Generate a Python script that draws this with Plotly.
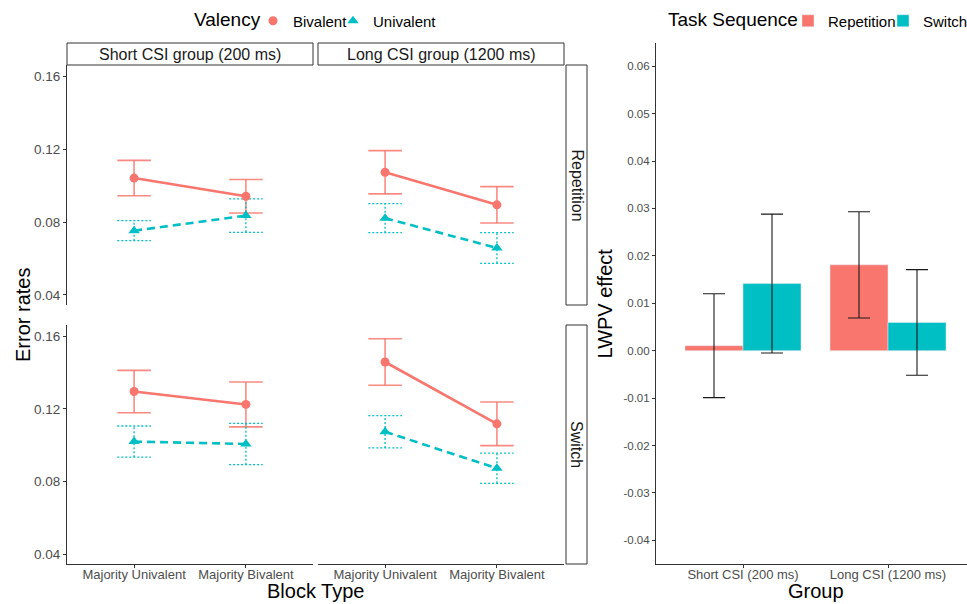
import plotly.graph_objects as go

# ---------------- data ----------------
blocks = ["Majority Univalent", "Majority Bivalent"]
groups = ["Short CSI group (200 ms)", "Long CSI group (1200 ms)"]
sequences = ["Repetition", "Switch"]

# Error rates (mean, half-width of error bar), per task sequence x group
biv_rep_short = [0.1042, 0.0942]
biv_rep_short_err = [0.0097, 0.0092]
uni_rep_short = [0.0753, 0.0836]
uni_rep_short_err = [0.0055, 0.0092]

biv_rep_long = [0.1074, 0.0895]
biv_rep_long_err = [0.0119, 0.0100]
uni_rep_long = [0.0822, 0.0658]
uni_rep_long_err = [0.0080, 0.0084]

biv_sw_short = [0.1296, 0.1225]
biv_sw_short_err = [0.0117, 0.0124]
uni_sw_short = [0.1020, 0.1007]
uni_sw_short_err = [0.0086, 0.0114]

biv_sw_long = [0.1459, 0.1118]
biv_sw_long_err = [0.0128, 0.0120]
uni_sw_long = [0.1074, 0.0873]
uni_sw_long_err = [0.0089, 0.0083]

err_ticks = [0.04, 0.08, 0.12, 0.16]
err_ticklabels = ["0.04", "0.08", "0.12", "0.16"]

# LWPV effect bars
bar_groups = ["Short CSI (200 ms)", "Long CSI (1200 ms)"]
lwpv_rep = [0.00105, 0.0181]
lwpv_rep_hi = [0.0120, 0.0293]
lwpv_rep_lo = [-0.0099, 0.0069]
lwpv_sw = [0.01415, 0.00595]
lwpv_sw_hi = [0.0288, 0.0171]
lwpv_sw_lo = [-0.0005, -0.0052]

lwpv_ticks = [-0.04, -0.03, -0.02, -0.01, 0.00, 0.01, 0.02, 0.03, 0.04, 0.05, 0.06]
lwpv_ticklabels = ["%.2f" % v for v in lwpv_ticks]

# ---------------- style ----------------
W, H = 967, 604
RED = "#F8766D"
CYAN = "#00BFC4"
FONT = "Liberation Sans, Arial, sans-serif"
TICKCOL = "#4D4D4D"
AXCOL = "#333333"


def px(x):
    return x / W


def py(y):
    return 1 - y / H


fig = go.Figure()

panels = [
    ("x", "y", biv_rep_short, biv_rep_short_err, uni_rep_short, uni_rep_short_err),
    ("x2", "y2", biv_rep_long, biv_rep_long_err, uni_rep_long, uni_rep_long_err),
    ("x3", "y3", biv_sw_short, biv_sw_short_err, uni_sw_short, uni_sw_short_err),
    ("x4", "y4", biv_sw_long, biv_sw_long_err, uni_sw_long, uni_sw_long_err),
]

xpos = [i + 1 for i in range(len(blocks))]
CAP = 0.15


def errbar_xy(means, errs):
    xs, ys = [], []
    for xi, m, e in zip(xpos, means, errs):
        xs += [xi, xi, None, xi - CAP, xi + CAP, None, xi - CAP, xi + CAP, None]
        ys += [m - e, m + e, None, m + e, m + e, None, m - e, m - e, None]
    return xs, ys


for k, (xa, ya, bm, be, um, ue) in enumerate(panels):
    # error bars
    ex, ey = errbar_xy(bm, be)
    fig.add_trace(go.Scatter(x=ex, y=ey, mode="lines", xaxis=xa, yaxis=ya,
                             line=dict(color="rgba(248,118,109,0.85)", width=1.6),
                             showlegend=False, hoverinfo="skip"))
    ex, ey = errbar_xy(um, ue)
    fig.add_trace(go.Scatter(x=ex, y=ey, mode="lines", xaxis=xa, yaxis=ya,
                             line=dict(color=CYAN, width=1.3, dash="2px,2px"),
                             showlegend=False, hoverinfo="skip"))
    # lines
    fig.add_trace(go.Scatter(x=xpos, y=bm, mode="lines", xaxis=xa, yaxis=ya,
                             line=dict(color=RED, width=2.6),
                             showlegend=False))
    fig.add_trace(go.Scatter(x=xpos, y=um, mode="lines", xaxis=xa, yaxis=ya,
                             line=dict(color=CYAN, width=2.6, dash="8px,5px"),
                             showlegend=False))
    # points
    fig.add_trace(go.Scatter(x=xpos, y=bm, mode="markers", xaxis=xa, yaxis=ya,
                             marker=dict(color=RED, size=9, symbol="circle"),
                             name="Bivalent", legendgroup="biv", legend="legend",
                             legendwidth=35, showlegend=(k == 0)))
    fig.add_trace(go.Scatter(x=xpos, y=um, mode="markers", xaxis=xa, yaxis=ya,
                             marker=dict(color=CYAN, size=10, symbol="triangle-up"),
                             name="Univalent", legendgroup="uni", legend="legend",
                             showlegend=(k == 0)))

# bars
fig.add_trace(go.Bar(x=bar_groups, y=lwpv_rep, name="Repetition", marker_color=RED,
                     xaxis="x5", yaxis="y5", legend="legend2", legendwidth=50,
                     error_y=dict(type="data", symmetric=False,
                                  array=[h - m for h, m in zip(lwpv_rep_hi, lwpv_rep)],
                                  arrayminus=[m - l for l, m in zip(lwpv_rep_lo, lwpv_rep)],
                                  color="#1A1A1A", thickness=1.1, width=11)))
fig.add_trace(go.Bar(x=bar_groups, y=lwpv_sw, name="Switch", marker_color=CYAN,
                     xaxis="x5", yaxis="y5", legend="legend2",
                     error_y=dict(type="data", symmetric=False,
                                  array=[h - m for h, m in zip(lwpv_sw_hi, lwpv_sw)],
                                  arrayminus=[m - l for l, m in zip(lwpv_sw_lo, lwpv_sw)],
                                  color="#1A1A1A", thickness=1.1, width=11)))

# ---------------- axes ----------------
xd_short = [px(67), px(313)]
xd_long = [px(318), px(564)]
yd_rep = [py(305), py(65)]
yd_sw = [py(564), py(325)]
YR = [0.0345, 0.1663]
XR = [0.4, 2.6]

tickfont = dict(family=FONT, size=13.5, color=TICKCOL)


def hidden_x(domain, anchor):
    return dict(domain=domain, anchor=anchor, range=XR, showline=False, showticklabels=False,
                ticks="", showgrid=False, zeroline=False)


def shown_x(domain, anchor):
    return dict(domain=domain, anchor=anchor, range=XR, showline=True, linecolor=AXCOL,
                linewidth=1.1, ticks="outside", ticklen=3, tickcolor=AXCOL,
                ticklabelstandoff=-5,
                tickvals=xpos, ticktext=blocks, tickfont=dict(family=FONT, size=13, color=TICKCOL),
                showgrid=False, zeroline=False)


def shown_y(domain, anchor):
    return dict(domain=domain, anchor=anchor, range=YR, showline=True, linecolor=AXCOL,
                linewidth=1.1, ticks="outside", ticklen=3, tickcolor=AXCOL,
                tickvals=err_ticks, ticktext=err_ticklabels, tickfont=tickfont,
                showgrid=False, zeroline=False)


def hidden_y(domain, anchor):
    return dict(domain=domain, anchor=anchor, range=YR, showline=False, showticklabels=False,
                ticks="", showgrid=False, zeroline=False)


fig.update_layout(
    xaxis=hidden_x(xd_short, "y"),
    yaxis=shown_y(yd_rep, "x"),
    xaxis2=hidden_x(xd_long, "y2"),
    yaxis2=hidden_y(yd_rep, "x2"),
    xaxis3=shown_x(xd_short, "y3"),
    yaxis3=shown_y(yd_sw, "x3"),
    xaxis4=shown_x(xd_long, "y4"),
    yaxis4=hidden_y(yd_sw, "x4"),
    xaxis5=dict(domain=[px(656), 1.0], anchor="y5", type="category",
                range=[-0.6, -0.6 + (W - 656) / 145.0],
                showline=True, linecolor=AXCOL, linewidth=1.1, ticks="outside", ticklen=3,
                ticklabelstandoff=-5,
                tickcolor=AXCOL, tickfont=dict(family=FONT, size=13, color=TICKCOL),
                showgrid=False, zeroline=False),
    yaxis5=dict(domain=[py(564), py(43)], anchor="x5", range=[-0.045, 0.0649],
                showline=True, linecolor=AXCOL, linewidth=1.1, ticks="outside", ticklen=3,
                tickcolor=AXCOL, tickvals=lwpv_ticks, ticktext=lwpv_ticklabels,
                tickfont=dict(family=FONT, size=11.5, color=TICKCOL),
                showgrid=False, zeroline=False),
    barmode="group",
    bargap=0.2,
    bargroupgap=0,
)

# ---------------- strips ----------------
shapes = []
annotations = []
strip_line = dict(color="#333333", width=1)
strip_font = dict(family=FONT, size=16, color="#1A1A1A")
for (x0, x1), g in zip([(67, 313), (318, 564)], groups):
    shapes.append(dict(type="rect", xref="paper", yref="paper", x0=px(x0), x1=px(x1),
                       y0=py(65), y1=py(43), line=strip_line, fillcolor="white", layer="below"))
    annotations.append(dict(text=g, xref="paper", yref="paper", x=px((x0 + x1) / 2),
                            y=py(54), showarrow=False, xanchor="center", yanchor="middle",
                            font=strip_font))
for (y0, y1), s in zip([(65, 305), (325, 564)], sequences):
    shapes.append(dict(type="rect", xref="paper", yref="paper", x0=px(566), x1=px(587),
                       y0=py(y1), y1=py(y0), line=strip_line, fillcolor="white", layer="below"))
    annotations.append(dict(text=s, xref="paper", yref="paper", x=px(576.5),
                            y=py((y0 + y1) / 2), showarrow=False, textangle=90,
                            xanchor="center", yanchor="middle", font=strip_font))

title_font = dict(family=FONT, size=20, color="black")
legend_title_font = dict(family=FONT, size=19, color="black")
annotations += [
    dict(text="Error rates", xref="paper", yref="paper", x=px(23), y=py(315), textangle=-90,
         showarrow=False, xanchor="center", yanchor="middle", font=title_font),
    dict(text="Block Type", xref="paper", yref="paper", x=px(315.5), y=py(591),
         showarrow=False, xanchor="center", yanchor="middle", font=title_font),
    dict(text="LWPV effect", xref="paper", yref="paper", x=px(604), y=py(303.5), textangle=-90,
         showarrow=False, xanchor="center", yanchor="middle", font=title_font),
    dict(text="Group", xref="paper", yref="paper", x=px(815.5), y=py(591),
         showarrow=False, xanchor="center", yanchor="middle", font=title_font),
    # legend titles
    dict(text="Valency", xref="paper", yref="paper", x=px(263), y=py(20),
         showarrow=False, xanchor="right", yanchor="middle", font=legend_title_font),
    dict(text="Task Sequence", xref="paper", yref="paper", x=px(800), y=py(20),
         showarrow=False, xanchor="right", yanchor="middle", font=legend_title_font),
]

fig.update_layout(
    width=W, height=H,
    margin=dict(l=0, r=0, t=0, b=0, autoexpand=False),
    paper_bgcolor="white", plot_bgcolor="white",
    font=dict(family=FONT),
    shapes=shapes,
    annotations=annotations,
    legend=dict(orientation="h", x=px(253), y=py(21), xanchor="left", yanchor="middle",
                font=dict(family=FONT, size=15, color="black"), bgcolor="rgba(0,0,0,0)",
                itemwidth=30, tracegroupgap=0),
    legend2=dict(orientation="h", x=px(788), y=py(21), xanchor="left", yanchor="middle",
                 font=dict(family=FONT, size=15, color="black"), bgcolor="rgba(0,0,0,0)",
                 itemwidth=30),
)

fig.write_html("out.html", config={"displayModeBar": False},
               post_script="document.body.style.margin='0px';document.body.style.overflow='hidden';")
